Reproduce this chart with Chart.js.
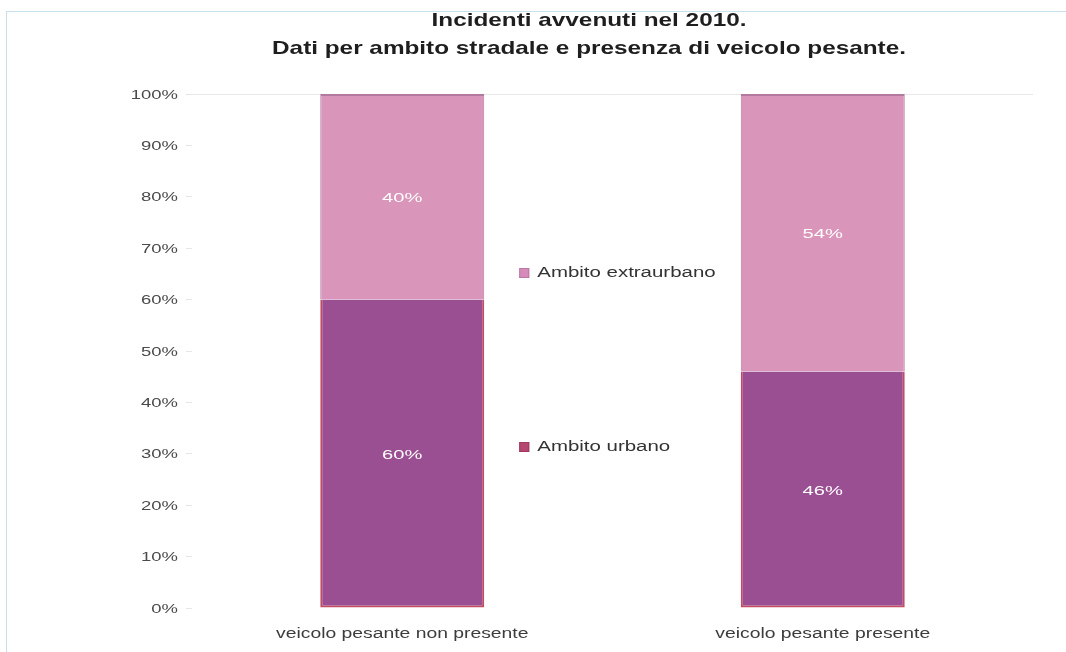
<!DOCTYPE html>
<html>
<head>
<meta charset="utf-8">
<script src="https://cdn.jsdelivr.net/npm/chart.js@4"></script>
<style>
  html, body { margin: 0; padding: 0; background: #fff; }
  #wrap { position: relative; width: 1066px; height: 652px; }
  #frame { position: absolute; left: 6px; top: 11px; right: 0; bottom: 0;
           border-top: 1px solid #c9dfec; border-left: 1px solid #c9dfec; }
  canvas { position: absolute; left: 0; top: 0; }
</style>
</head>
<body>
<div id="wrap">
  <div id="frame"></div>
  <canvas id="c" width="1066" height="652"></canvas>
</div>
<script>
// Incidenti 2010: quota per ambito stradale (percentuali)
const categories = ['veicolo pesante non presente', 'veicolo pesante presente'];
const urbano = [60, 46];
const extraurbano = [40, 54];
const seriesNames = ['Ambito urbano', 'Ambito extraurbano'];
const yTicks = [0, 10, 20, 30, 40, 50, 60, 70, 80, 90, 100];
const titleLines = ['Incidenti avvenuti nel 2010.', 'Dati per ambito stradale e presenza di veicolo pesante.'];

const FONT = '"Liberation Sans", Arial, sans-serif';
const WIDE = 1.42;   // horizontal stretch used by all lettering

// draws a string stretched horizontally around its anchor point
function wideText(ctx, text, x, y, font, color, align, sx) {
  ctx.save();
  ctx.font = font;
  ctx.fillStyle = color;
  ctx.textBaseline = 'middle';
  ctx.textAlign = align;
  ctx.translate(x, y);
  ctx.scale(sx, 1);
  ctx.fillText(text, 0, 0);
  ctx.restore();
}

// title block, tick labels and legend
const lettering = {
  id: 'lettering',
  afterDraw(chart) {
    const ctx = chart.ctx;
    const xs = chart.scales.x, ys = chart.scales.y;

    titleLines.forEach((t, i) =>
      wideText(ctx, t, 589, 21 + i * 28, 'bold 19px ' + FONT, '#1e1e1e', 'center', 1.28));

    ys.ticks.forEach(t =>
      wideText(ctx, t.value + '%', 178, ys.getPixelForValue(t.value) + 1,
               '13px ' + FONT, '#4a4a4a', 'right', WIDE));

    categories.forEach((c, i) =>
      wideText(ctx, c, xs.getPixelForValue(i), 634, '14px ' + FONT, '#3c3c3c', 'center', WIDE - 0.04));

    const lx = xs.getPixelForValue(0) + 117;
    const entries = [
      { text: seriesNames[1], value: 65.3, fill: '#d68cba', stroke: '#bb77a2' },
      { text: seriesNames[0], value: 31.6, fill: '#b4466f', stroke: '#9e3a5f' }
    ];
    entries.forEach(e => {
      const py = Math.round(ys.getPixelForValue(e.value));
      ctx.save();
      ctx.fillStyle = e.fill;
      ctx.strokeStyle = e.stroke;
      ctx.lineWidth = 1;
      ctx.fillRect(lx, py - 4, 10, 10);
      ctx.strokeRect(lx + 0.5, py - 3.5, 9, 9);
      ctx.restore();
      wideText(ctx, e.text, lx + 18, py + 1, '14px ' + FONT, '#333', 'left', WIDE + 0.04);
    });
  }
};

// white percentage label inside each stacked segment
const segmentLabels = {
  id: 'segmentLabels',
  afterDatasetsDraw(chart) {
    chart.data.datasets.forEach((ds, di) => {
      chart.getDatasetMeta(di).data.forEach((bar, i) => {
        wideText(chart.ctx, ds.data[i] + '%', bar.x, (bar.y + bar.base) / 2 + 2,
                 '13px ' + FONT, '#ffffff', 'center', 1.55);
      });
    });
  }
};

new Chart(document.getElementById('c'), {
  type: 'bar',
  data: {
    labels: categories,
    datasets: [
      {
        label: seriesNames[0],
        data: urbano,
        backgroundColor: '#9b4f93',
        borderColor: '#c24d62',
        borderWidth: { left: 2, right: 2, bottom: 2, top: 0 },
        borderSkipped: false,
        barPercentage: 0.39,
        categoryPercentage: 1.0
      },
      {
        label: seriesNames[1],
        data: extraurbano,
        backgroundColor: '#d995ba',
        borderColor: '#b27a9f',
        borderWidth: { left: 1, right: 1, top: 2, bottom: 0 },
        borderSkipped: false,
        barPercentage: 0.39,
        categoryPercentage: 1.0
      }
    ]
  },
  options: {
    responsive: false,
    animation: false,
    devicePixelRatio: 1,
    layout: { padding: { left: 0, right: 33, top: 94, bottom: 0 } },
    plugins: {
      legend: { display: false },
      tooltip: { enabled: false },
      title: { display: false }
    },
    scales: {
      x: {
        stacked: true,
        grid: { display: false, drawTicks: false },
        border: { display: false },
        ticks: { display: false },
        afterFit(scale) { scale.height = 44; }
      },
      y: {
        stacked: true,
        min: 0,
        max: 100,
        afterBuildTicks(scale) { scale.ticks = yTicks.map(v => ({ value: v })); },
        grid: {
          drawTicks: true,
          tickLength: 6,
          tickColor: '#e6e6e6',
          color: ctx => (ctx.tick && ctx.tick.value === 100) ? '#e8e8e8' : 'rgba(0,0,0,0)'
        },
        border: { display: false },
        ticks: { display: false },
        afterFit(scale) { scale.width = 192; }
      }
    }
  },
  plugins: [segmentLabels, lettering]
});
</script>
</body>
</html>
